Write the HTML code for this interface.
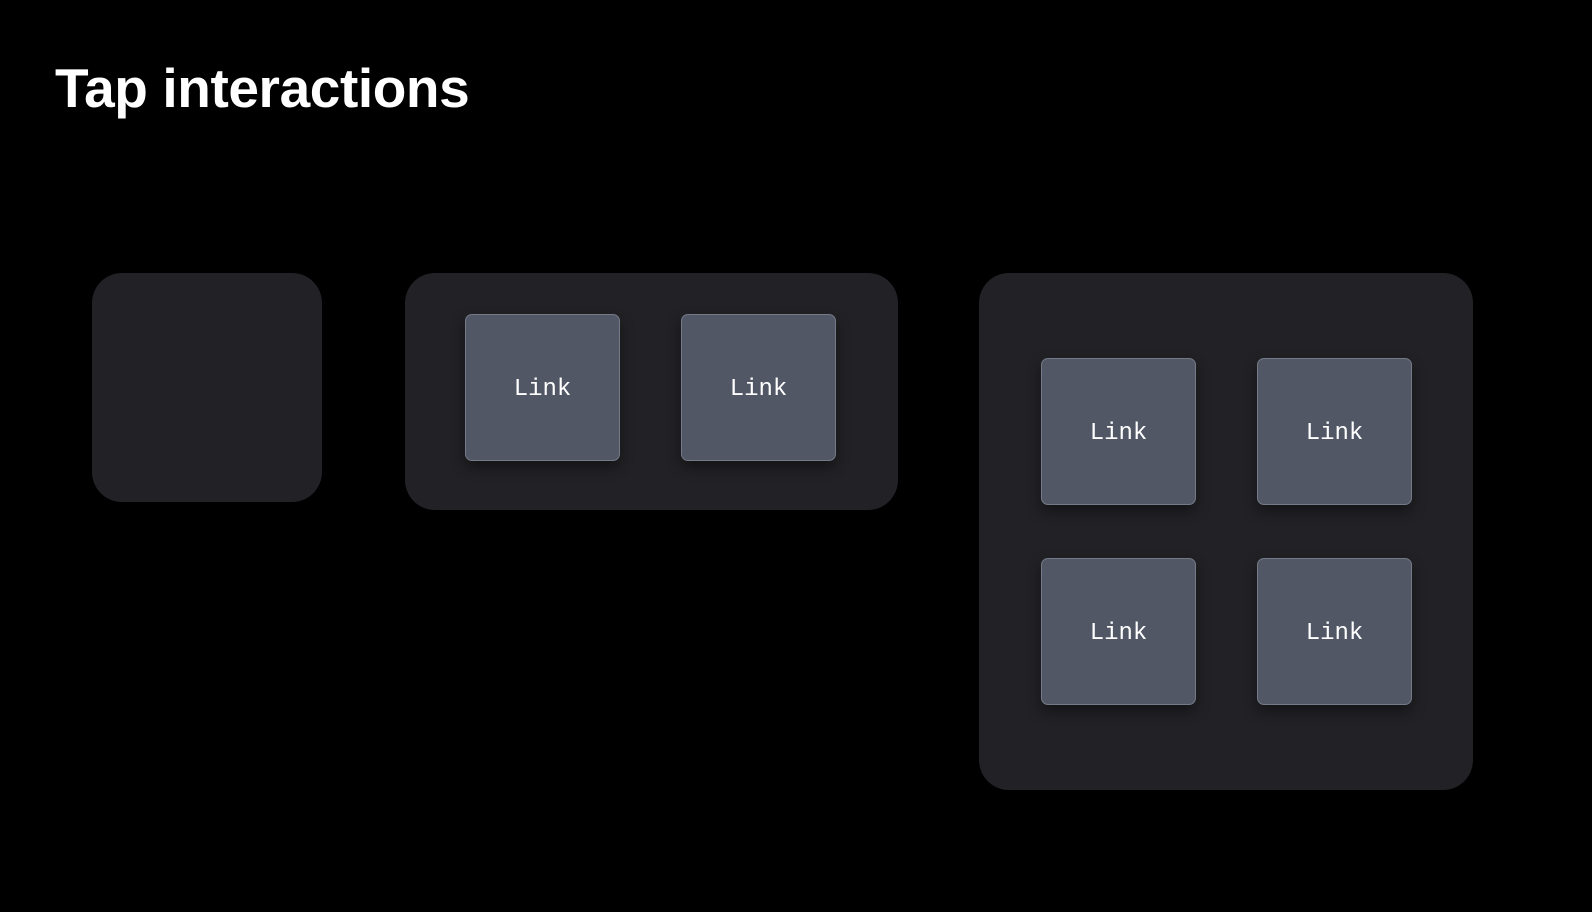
<!DOCTYPE html>
<html><head><meta charset="utf-8"><style>
html,body{margin:0;padding:0;background:#000;width:1592px;height:912px;overflow:hidden;}
.t{position:absolute;left:55px;top:58px;color:#fff;font:bold 55px "Liberation Sans",sans-serif;letter-spacing:-0.4px;line-height:60px;}
.c{position:absolute;background:#222226;border-radius:30px;}
.l{position:absolute;width:155px;height:147px;background:#515764;border:1.5px solid #747a88;border-radius:7px;box-sizing:border-box;box-shadow:0 6px 14px rgba(0,0,0,0.45);color:#fff;font:24px "Liberation Mono","DejaVu Sans Mono",monospace;display:flex;align-items:center;justify-content:center;padding-top:3px;}
</style></head><body>
<div class="t">Tap interactions</div>
<div class="c" style="left:92px;top:273px;width:230px;height:229px"></div>
<div class="c" style="left:405px;top:273px;width:493px;height:237px"></div>
<div class="c" style="left:979px;top:273px;width:494px;height:517px"></div>
<div class="l" style="left:465px;top:314px">Link</div>
<div class="l" style="left:681px;top:314px">Link</div>
<div class="l" style="left:1041px;top:358px">Link</div>
<div class="l" style="left:1257px;top:358px">Link</div>
<div class="l" style="left:1041px;top:558px">Link</div>
<div class="l" style="left:1257px;top:558px">Link</div>
</body></html>
